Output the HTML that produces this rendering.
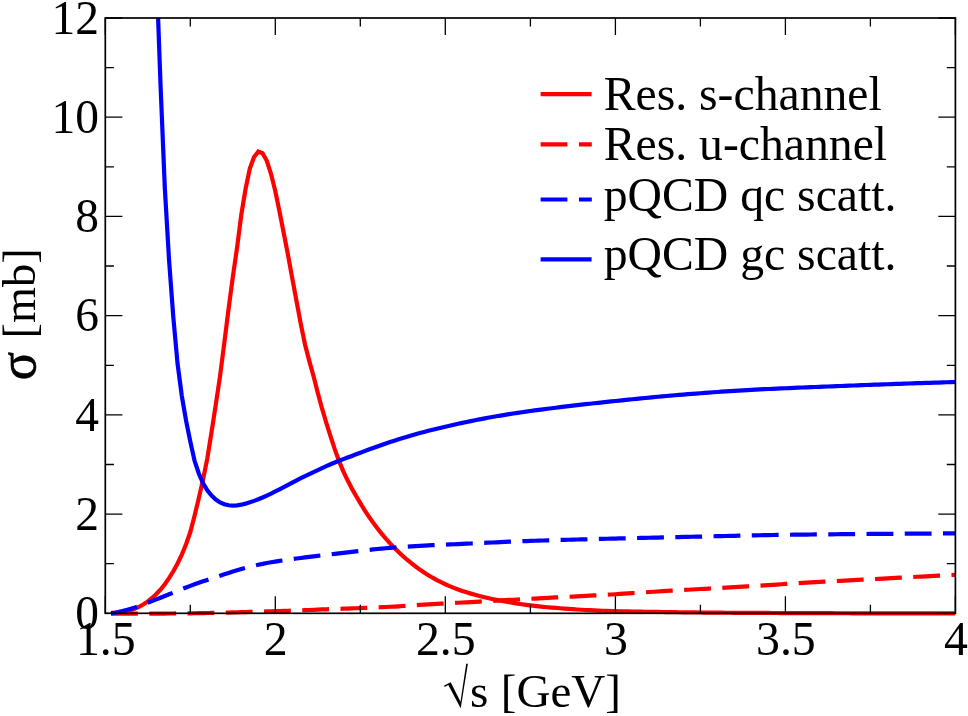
<!DOCTYPE html>
<html><head><meta charset="utf-8"><title>chart</title>
<style>html,body{margin:0;padding:0;background:#fff}svg{display:block;will-change:transform}text{font-family:"Liberation Serif",serif}</style></head>
<body>
<svg width="968" height="716" viewBox="0 0 968 716">
<rect width="968" height="716" fill="#fff"/>
<defs><clipPath id="c"><rect x="105.3" y="18.0" width="850.1" height="598.3"/></clipPath></defs>
<g clip-path="url(#c)" fill="none" stroke-width="4.2" stroke-linejoin="miter">
<path d="M111.05 612.90L113.80 612.83L118.05 612.48L122.30 611.90L126.55 611.12L130.80 610.04L135.05 608.59L139.30 606.71L143.55 604.33L147.81 601.41L152.06 597.98L156.31 594.05L160.56 589.51L164.81 584.23L169.06 578.15L173.31 571.23L177.56 563.44L181.81 554.56L186.06 544.18L190.31 532.05L194.56 515.68L198.81 498.30L203.06 479.38L207.31 458.32L211.56 431.93L215.81 404.50L220.06 375.94L224.31 342.78L228.56 308.95L232.81 277.09L237.07 247.62L241.32 214.62L245.57 188.80L249.82 168.57L254.05 157.00L258.30 151.60L262.55 153.20L266.80 160.80L271.07 174.03L275.32 191.22L279.57 211.89L283.82 233.50L288.07 255.46L292.32 278.52L296.57 301.45L300.82 324.06L305.07 344.72L309.32 361.11L313.57 376.21L317.82 393.01L322.08 408.68L326.33 422.98L330.58 436.43L334.83 449.36L339.08 461.23L343.33 471.27L347.58 480.32L351.83 488.54L356.08 496.06L360.33 503.17L364.58 510.04L368.83 516.55L373.08 522.62L377.33 528.27L381.58 533.58L385.83 538.60L390.08 543.35L394.33 547.83L398.58 552.05L402.83 556.01L407.09 559.72L411.34 563.20L415.59 566.49L419.84 569.58L424.09 572.48L428.34 575.19L432.59 577.71L436.84 580.05L441.09 582.22L445.34 584.24L449.59 586.11L453.84 587.84L458.09 589.45L462.34 590.94L466.59 592.33L470.84 593.63L475.09 594.85L479.34 595.99L483.59 597.06L487.84 598.05L492.10 598.98L496.35 599.84L500.60 600.65L504.85 601.42L509.10 602.16L513.35 602.88L517.60 603.57L521.85 604.23L526.10 604.85L530.35 605.42L534.60 605.94L538.85 606.41L543.10 606.84L547.35 607.23L551.60 607.60L555.85 607.94L560.10 608.27L564.35 608.58L568.60 608.89L572.85 609.19L577.11 609.48L581.36 609.74L585.61 609.99L589.86 610.20L594.11 610.40L598.36 610.58L602.61 610.73L606.86 610.88L611.11 611.01L615.36 611.12L619.61 611.23L623.86 611.33L628.11 611.43L632.36 611.52L636.61 611.60L640.86 611.68L645.11 611.76L649.36 611.83L653.61 611.89L657.86 611.96L662.12 612.02L666.37 612.08L670.62 612.14L674.87 612.19L679.12 612.25L683.37 612.30L687.62 612.35L691.87 612.40L696.12 612.45L700.37 612.49L704.62 612.54L708.87 612.58L713.12 612.62L717.37 612.66L721.62 612.69L725.87 612.73L730.12 612.76L734.37 612.79L738.62 612.81L742.87 612.84L747.13 612.86L751.38 612.89L755.63 612.91L759.88 612.93L764.13 612.95L768.38 612.97L772.63 612.99L776.88 613.01L781.13 613.03L785.38 613.04L789.63 613.06L793.88 613.08L798.13 613.09L802.38 613.11L806.63 613.13L810.88 613.14L815.13 613.16L819.38 613.17L823.63 613.19L827.88 613.20L832.14 613.22L836.39 613.23L840.64 613.24L844.89 613.26L849.14 613.27L853.39 613.28L857.64 613.29L861.89 613.30L866.14 613.32L870.39 613.33L874.64 613.34L878.89 613.35L883.14 613.36L887.39 613.37L891.64 613.38L895.89 613.39L900.14 613.39L904.39 613.40L908.64 613.40L912.89 613.40L917.15 613.40L921.40 613.40L925.65 613.40L929.90 613.40L934.15 613.40L938.40 613.40L942.65 613.40L946.90 613.40L951.15 613.40L955.40 613.40" stroke="#f00"/>
<path d="M111.05 613.60L113.80 613.60L118.05 613.60L122.30 613.60L126.55 613.60L130.80 613.60L135.05 613.60L139.30 613.60L143.55 613.59L147.81 613.59L152.06 613.58L156.31 613.57L160.56 613.55L164.81 613.54L169.06 613.52L173.31 613.49L177.56 613.46L181.81 613.42L186.06 613.37L190.31 613.32L194.56 613.25L198.81 613.18L203.06 613.11L207.31 613.02L211.56 612.94L215.81 612.85L220.06 612.75L224.31 612.65L228.56 612.55L232.81 612.44L237.07 612.32L241.32 612.20L245.57 612.08L249.82 611.96L254.07 611.84L258.32 611.72L262.57 611.59L266.82 611.47L271.07 611.34L275.32 611.21L279.57 611.07L283.82 610.93L288.07 610.79L292.32 610.64L296.57 610.48L300.82 610.32L305.07 610.15L309.32 609.98L313.57 609.81L317.82 609.64L322.08 609.47L326.33 609.31L330.58 609.14L334.83 608.99L339.08 608.83L343.33 608.68L347.58 608.53L351.83 608.38L356.08 608.23L360.33 608.08L364.58 607.92L368.83 607.76L373.08 607.58L377.33 607.40L381.58 607.20L385.83 606.99L390.08 606.77L394.33 606.53L398.58 606.28L402.83 606.02L407.09 605.76L411.34 605.49L415.59 605.23L419.84 604.96L424.09 604.70L428.34 604.44L432.59 604.19L436.84 603.94L441.09 603.70L445.34 603.46L449.59 603.22L453.84 602.98L458.09 602.75L462.34 602.51L466.59 602.28L470.84 602.05L475.09 601.81L479.34 601.58L483.59 601.35L487.84 601.12L492.10 600.89L496.35 600.66L500.60 600.43L504.85 600.19L509.10 599.96L513.35 599.73L517.60 599.49L521.85 599.26L526.10 599.03L530.35 598.80L534.60 598.58L538.85 598.35L543.10 598.13L547.35 597.90L551.60 597.68L555.85 597.46L560.10 597.23L564.35 597.01L568.60 596.79L572.85 596.56L577.11 596.34L581.36 596.12L585.61 595.90L589.86 595.67L594.11 595.45L598.36 595.22L602.61 594.98L606.86 594.74L611.11 594.49L615.36 594.24L619.61 593.97L623.86 593.70L628.11 593.43L632.36 593.14L636.61 592.86L640.86 592.58L645.11 592.30L649.36 592.02L653.61 591.75L657.86 591.48L662.12 591.22L666.37 590.96L670.62 590.71L674.87 590.46L679.12 590.22L683.37 589.98L687.62 589.74L691.87 589.50L696.12 589.26L700.37 589.02L704.62 588.78L708.87 588.54L713.12 588.31L717.37 588.07L721.62 587.83L725.87 587.59L730.12 587.35L734.37 587.11L738.62 586.87L742.87 586.63L747.13 586.39L751.38 586.14L755.63 585.88L759.88 585.62L764.13 585.36L768.38 585.09L772.63 584.81L776.88 584.53L781.13 584.25L785.38 583.97L789.63 583.70L793.88 583.42L798.13 583.16L802.38 582.90L806.63 582.65L810.88 582.40L815.13 582.16L819.38 581.92L823.63 581.69L827.88 581.46L832.14 581.23L836.39 581.01L840.64 580.78L844.89 580.56L849.14 580.34L853.39 580.12L857.64 579.90L861.89 579.67L866.14 579.45L870.39 579.23L874.64 579.01L878.89 578.78L883.14 578.56L887.39 578.33L891.64 578.10L895.89 577.88L900.14 577.65L904.39 577.43L908.64 577.21L912.89 576.99L917.15 576.77L921.40 576.55L925.65 576.33L929.90 576.11L934.15 575.89L938.40 575.67L942.65 575.46L946.90 575.24L951.15 575.02L955.40 574.80" stroke="#f00" stroke-dasharray="26.85 11.395"/>
<path d="M111.05 613.40L113.80 612.94L118.05 612.10L122.30 611.11L126.55 609.95L130.80 608.74L135.05 607.38L139.30 605.91L143.55 604.34L147.81 602.70L152.06 601.05L156.31 599.38L160.56 597.70L164.81 596.01L169.06 594.29L173.31 592.56L177.56 590.83L181.81 589.12L186.06 587.46L190.31 585.86L194.56 584.31L198.81 582.80L203.06 581.33L207.31 579.89L211.56 578.47L215.81 577.07L220.06 575.67L224.31 574.29L228.56 572.92L232.81 571.58L237.07 570.28L241.32 569.04L245.57 567.86L249.82 566.74L254.07 565.70L258.32 564.74L262.57 563.85L266.82 563.04L271.07 562.29L275.32 561.59L279.57 560.94L283.82 560.32L288.07 559.72L292.32 559.13L296.57 558.54L300.82 557.96L305.07 557.40L309.32 556.85L313.57 556.32L317.82 555.81L322.08 555.32L326.33 554.86L330.58 554.40L334.83 553.94L339.08 553.46L343.33 552.95L347.58 552.43L351.83 551.90L356.08 551.37L360.33 550.85L364.58 550.36L368.83 549.89L373.08 549.44L377.33 549.01L381.58 548.61L385.83 548.23L390.08 547.87L394.33 547.53L398.58 547.21L402.83 546.91L407.09 546.63L411.34 546.37L415.59 546.12L419.84 545.87L424.09 545.64L428.34 545.42L432.59 545.20L436.84 545.00L441.09 544.80L445.34 544.60L449.59 544.42L453.84 544.23L458.09 544.05L462.34 543.87L466.59 543.68L470.84 543.49L475.09 543.30L479.34 543.10L483.59 542.90L487.84 542.69L492.10 542.48L496.35 542.28L500.60 542.08L504.85 541.89L509.10 541.70L513.35 541.53L517.60 541.36L521.85 541.20L526.10 541.05L530.35 540.90L534.60 540.75L538.85 540.61L543.10 540.48L547.35 540.35L551.60 540.22L555.85 540.10L560.10 539.97L564.35 539.86L568.60 539.74L572.85 539.63L577.11 539.52L581.36 539.40L585.61 539.29L589.86 539.18L594.11 539.08L598.36 538.97L602.61 538.86L606.86 538.75L611.11 538.65L615.36 538.54L619.61 538.44L623.86 538.33L628.11 538.23L632.36 538.13L636.61 538.03L640.86 537.93L645.11 537.83L649.36 537.73L653.61 537.63L657.86 537.53L662.12 537.43L666.37 537.33L670.62 537.24L674.87 537.14L679.12 537.05L683.37 536.95L687.62 536.86L691.87 536.76L696.12 536.67L700.37 536.57L704.62 536.47L708.87 536.38L713.12 536.28L717.37 536.18L721.62 536.08L725.87 535.99L730.12 535.89L734.37 535.80L738.62 535.70L742.87 535.61L747.13 535.52L751.38 535.43L755.63 535.34L759.88 535.26L764.13 535.18L768.38 535.10L772.63 535.02L776.88 534.95L781.13 534.88L785.38 534.81L789.63 534.75L793.88 534.69L798.13 534.63L802.38 534.58L806.63 534.53L810.88 534.48L815.13 534.44L819.38 534.39L823.63 534.35L827.88 534.31L832.14 534.28L836.39 534.24L840.64 534.20L844.89 534.17L849.14 534.13L853.39 534.10L857.64 534.07L861.89 534.04L866.14 534.00L870.39 533.97L874.64 533.94L878.89 533.91L883.14 533.88L887.39 533.85L891.64 533.81L895.89 533.78L900.14 533.75L904.39 533.72L908.64 533.69L912.89 533.67L917.15 533.64L921.40 533.61L925.65 533.58L929.90 533.55L934.15 533.53L938.40 533.50L942.65 533.47L946.90 533.45L951.15 533.42L955.40 533.40" stroke="#00f" stroke-dasharray="26.85 11.395"/>
<path d="M157.45 0.00L160.56 85.72L164.81 187.90L169.06 260.14L173.31 317.08L177.56 363.89L181.81 395.83L186.06 420.71L190.31 441.62L194.56 460.80L198.81 473.50L203.06 483.21L207.31 490.30L211.56 495.62L215.81 499.58L220.06 502.40L224.31 504.24L228.56 505.26L232.81 505.57L237.07 505.30L241.32 504.68L245.57 503.65L249.82 502.32L254.07 500.87L258.32 499.28L262.57 497.54L266.82 495.63L271.07 493.61L275.32 491.49L279.57 489.31L283.82 487.10L288.07 484.86L292.32 482.62L296.57 480.40L300.82 478.23L305.07 476.12L309.32 474.06L313.57 472.04L317.82 470.04L322.08 468.06L326.33 466.14L330.58 464.28L334.83 462.50L339.08 460.80L343.33 459.15L347.58 457.53L351.83 455.92L356.08 454.31L360.33 452.70L364.58 451.09L368.83 449.50L373.08 447.93L377.33 446.40L381.58 444.91L385.83 443.46L390.08 442.04L394.33 440.66L398.58 439.31L402.83 437.99L407.09 436.71L411.34 435.46L415.59 434.24L419.84 433.06L424.09 431.91L428.34 430.80L432.59 429.72L436.84 428.68L441.09 427.67L445.34 426.68L449.59 425.71L453.84 424.76L458.09 423.82L462.34 422.90L466.59 422.00L470.84 421.11L475.09 420.25L479.34 419.42L483.59 418.60L487.84 417.81L492.10 417.04L496.35 416.30L500.60 415.57L504.85 414.86L509.10 414.17L513.35 413.50L517.60 412.86L521.85 412.23L526.10 411.62L530.35 411.02L534.60 410.44L538.85 409.88L543.10 409.32L547.35 408.78L551.60 408.24L555.85 407.72L560.10 407.20L564.35 406.68L568.60 406.17L572.85 405.67L577.11 405.17L581.36 404.68L585.61 404.20L589.86 403.72L594.11 403.25L598.36 402.79L602.61 402.33L606.86 401.88L611.11 401.43L615.36 400.99L619.61 400.56L623.86 400.12L628.11 399.69L632.36 399.26L636.61 398.83L640.86 398.41L645.11 397.98L649.36 397.57L653.61 397.16L657.86 396.76L662.12 396.37L666.37 395.98L670.62 395.61L674.87 395.24L679.12 394.88L683.37 394.54L687.62 394.20L691.87 393.86L696.12 393.54L700.37 393.22L704.62 392.90L708.87 392.59L713.12 392.28L717.37 391.98L721.62 391.68L725.87 391.39L730.12 391.11L734.37 390.84L738.62 390.57L742.87 390.32L747.13 390.07L751.38 389.84L755.63 389.61L759.88 389.40L764.13 389.19L768.38 388.99L772.63 388.79L776.88 388.60L781.13 388.41L785.38 388.23L789.63 388.05L793.88 387.87L798.13 387.69L802.38 387.52L806.63 387.34L810.88 387.16L815.13 386.99L819.38 386.82L823.63 386.65L827.88 386.48L832.14 386.31L836.39 386.15L840.64 385.98L844.89 385.82L849.14 385.66L853.39 385.50L857.64 385.34L861.89 385.18L866.14 385.02L870.39 384.86L874.64 384.70L878.89 384.55L883.14 384.40L887.39 384.24L891.64 384.09L895.89 383.94L900.14 383.80L904.39 383.65L908.64 383.51L912.89 383.36L917.15 383.22L921.40 383.08L925.65 382.94L929.90 382.80L934.15 382.67L938.40 382.53L942.65 382.40L946.90 382.26L951.15 382.13L955.40 382.00" stroke="#00f"/>
</g>
<g fill="none" stroke-width="4.2">
<path d="M540.6 94.2H591.6" stroke="#f00"/>
<path d="M540.6 144.4H567.4M579 144.4H591.8" stroke="#f00"/>
<path d="M540.6 199.5H567.4M579 199.5H591.8" stroke="#00f"/>
<path d="M540.6 259.3H591.6" stroke="#00f"/>
</g>
<path d="M105.3 613.3V596.2M105.3 18.0V35.1M190.3 613.3V604.7M190.3 18.0V26.6M275.3 613.3V596.2M275.3 18.0V35.1M360.3 613.3V604.7M360.3 18.0V26.6M445.3 613.3V596.2M445.3 18.0V35.1M530.4 613.3V604.7M530.4 18.0V26.6M615.4 613.3V596.2M615.4 18.0V35.1M700.4 613.3V604.7M700.4 18.0V26.6M785.4 613.3V596.2M785.4 18.0V35.1M870.4 613.3V604.7M870.4 18.0V26.6M955.4 613.3V596.2M955.4 18.0V35.1M105.3 613.3H122.4M955.4 613.3H938.3M105.3 563.7H113.9M955.4 563.7H946.8M105.3 514.1H122.4M955.4 514.1H938.3M105.3 464.5H113.9M955.4 464.5H946.8M105.3 414.9H122.4M955.4 414.9H938.3M105.3 365.3H113.9M955.4 365.3H946.8M105.3 315.6H122.4M955.4 315.6H938.3M105.3 266.0H113.9M955.4 266.0H946.8M105.3 216.4H122.4M955.4 216.4H938.3M105.3 166.8H113.9M955.4 166.8H946.8M105.3 117.2H122.4M955.4 117.2H938.3M105.3 67.6H113.9M955.4 67.6H946.8M105.3 18.0H122.4M955.4 18.0H938.3" stroke="#000" stroke-width="1.3" fill="none"/>
<rect x="105.3" y="18.0" width="850.1" height="595.3" fill="none" stroke="#000" stroke-width="1.7"/>
<g font-size="47.5" fill="#000">
<text x="105.8" y="654.7" text-anchor="middle" font-size="47.8">1.5</text>
<text x="275.8" y="654.7" text-anchor="middle" font-size="47.8">2</text>
<text x="445.8" y="654.7" text-anchor="middle" font-size="47.8">2.5</text>
<text x="615.9" y="654.7" text-anchor="middle" font-size="47.8">3</text>
<text x="785.9" y="654.7" text-anchor="middle" font-size="47.8">3.5</text>
<text x="955.9" y="654.7" text-anchor="middle" font-size="47.8">4</text>
<text x="99.0" y="628.9" text-anchor="end">0</text>
<text x="99.0" y="529.7" text-anchor="end">2</text>
<text x="99.0" y="430.5" text-anchor="end">4</text>
<text x="99.0" y="331.2" text-anchor="end">6</text>
<text x="99.0" y="232.0" text-anchor="end">8</text>
<text x="99.0" y="132.8" text-anchor="end">10</text>
<text x="99.0" y="33.6" text-anchor="end">12</text>
<text x="603.7" y="109.9" font-size="47.7">Res. s-channel</text>
<text x="603.7" y="160.3" font-size="47.7">Res. u-channel</text>
<text x="603.7" y="210.7" font-size="47.7">pQCD qc scatt.</text>
<text x="603.7" y="270.3" font-size="47.7">pQCD gc scatt.</text>
<path d="M444.1 685.6L450.7 682.2L460.5 701.7L466.2 663.7L467.9 663.7L460.7 708.2L448.3 684.9L444.7 687.0Z"/>
<text x="470" y="707.3" font-size="47.1">s<tspan dx="0.6"> [GeV]</tspan></text>
<text transform="translate(35.2 380.3) rotate(-90)" font-size="52.5" stroke="#000" stroke-width="0.7">σ</text>
<text transform="translate(35.2 338.5) rotate(-90)" font-size="46.4">[mb]</text>
</g>
</svg>
</body></html>
